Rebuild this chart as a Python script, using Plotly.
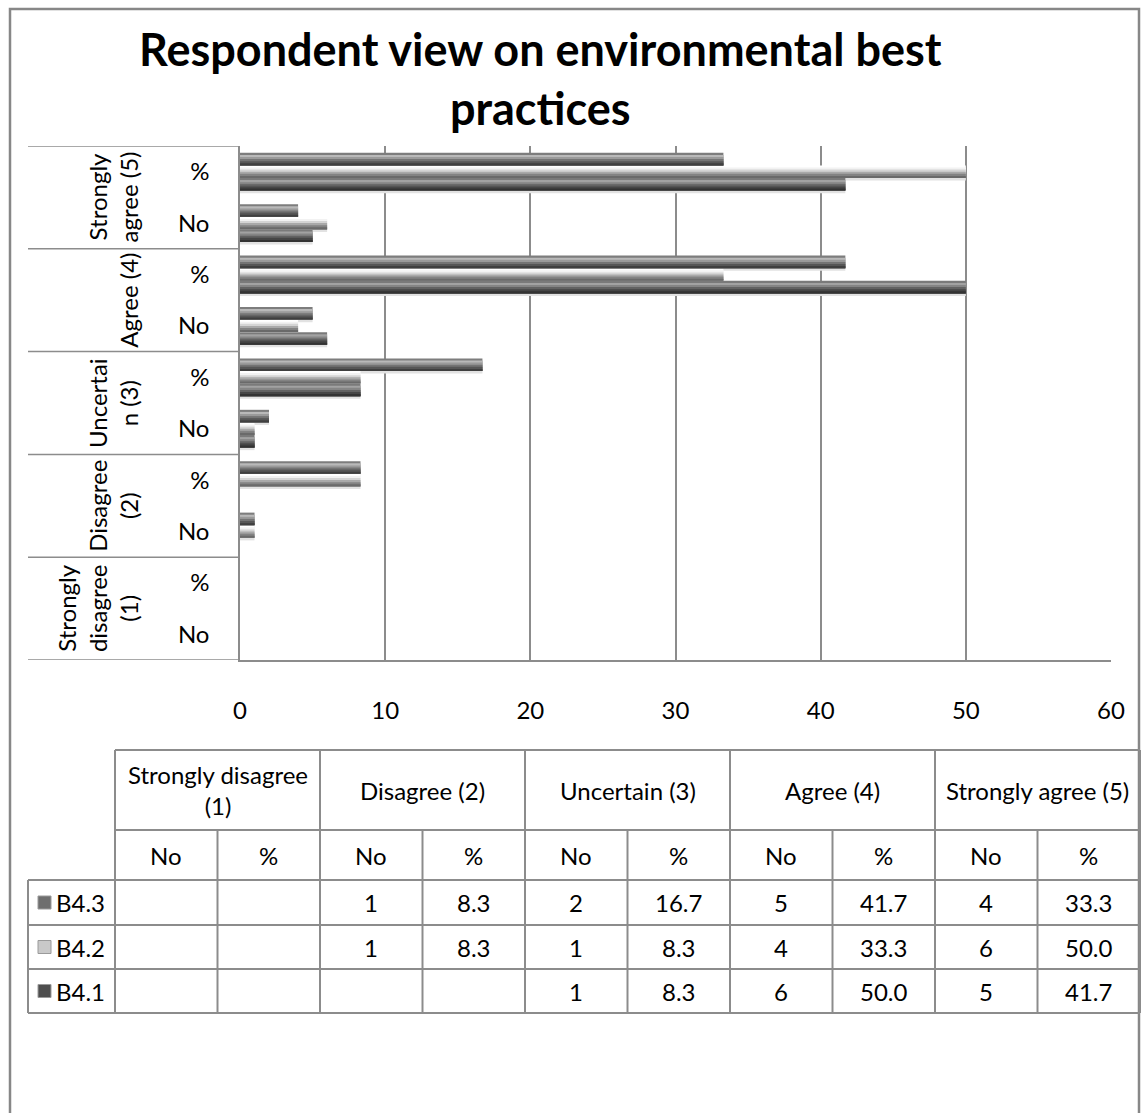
import plotly.graph_objects as go

# ---- data -------------------------------------------------------------
levels = ["Strongly disagree (1)", "Disagree (2)", "Uncertain (3)", "Agree (4)", "Strongly agree (5)"]
level_axis_labels = ["Strongly<br>disagree<br>(1)", "Disagree<br>(2)", "Uncertai<br>n (3)",
                     "Agree (4)", "Strongly<br>agree (5)"]
measures = ["No", "%"]
series_names = ["B4.1", "B4.2", "B4.3"]

b41_no = [None, None, 1, 6, 5]
b41_pct = [None, None, 8.3, 50.0, 41.7]
b42_no = [None, 1, 1, 4, 6]
b42_pct = [None, 8.3, 8.3, 33.3, 50.0]
b43_no = [None, 1, 2, 5, 4]
b43_pct = [None, 8.3, 16.7, 41.7, 33.3]

x_ticks = [0, 10, 20, 30, 40, 50, 60]

title_text = "Respondent view on environmental best<br>practices"

# ---- styling ----------------------------------------------------------
FONT = "Lato, 'Open Sans', sans-serif"
TXT = 24
GRID = "#8c8c8c"

# bevelled grey bars, approximated by horizontal bands (top -> bottom)
bands = {
    "B4.3": ["#7d7d7d", "#b9b9b9", "#9a9a9a", "#747474", "#565656", "#3f3f3f"],
    "B4.2": ["#ffffff", "#f2f2f2", "#d4d4d4", "#a9a9a9", "#838383", "#6a6a6a"],
    "B4.1": ["#7a7a7a", "#a2a2a2", "#858585", "#626262", "#464646", "#333333"],
}
key_fill = {"B4.3": "#6e6e6e", "B4.2": "#c9c9c9", "B4.1": "#4e4e4e"}
shadow_color = "#e2e2e2"
bar_w = 0.245
base_offset = {"B4.1": -0.3675, "B4.2": -0.1225, "B4.3": 0.1225}

# ---- category layout ---------------------------------------------------
positions = list(range(len(levels) * len(measures)))
tick_text = [m for _ in levels for m in measures]


def interleave(no_vals, pct_vals):
    out = []
    for a, b in zip(no_vals, pct_vals):
        out += [a, b]
    return out


series_vals = {
    "B4.1": interleave(b41_no, b41_pct),
    "B4.2": interleave(b42_no, b42_pct),
    "B4.3": interleave(b43_no, b43_pct),
}
series_cols = {
    "B4.1": (b41_no, b41_pct),
    "B4.2": (b42_no, b42_pct),
    "B4.3": (b43_no, b43_pct),
}

fig = go.Figure()

# soft drop shadow under each bar
for name in series_names:
    fig.add_trace(go.Bar(
        orientation="h", x=series_vals[name], y=positions,
        offset=base_offset[name] - 0.05, width=bar_w,
        marker=dict(color=shadow_color, line=dict(width=0)),
        showlegend=False, hoverinfo="skip",
    ))

# each band reaches down to the bar's bottom edge, so the bands stack without gaps
for name in series_names:
    cols = bands[name]
    k = len(cols)
    for j, c in enumerate(cols):
        height = bar_w * (k - j) / k
        fig.add_trace(go.Bar(
            orientation="h",
            x=series_vals[name],
            y=positions,
            offset=base_offset[name],
            width=height,
            marker=dict(color=c, line=dict(width=0)),
            name=name,
            showlegend=False,
            hoverinfo="skip",
        ))

# ---- pixel helpers for the surrounding frame / table ------------------
W, H = 1141, 1113
PL, PR, PT, PB = 240, 1111, 146, 660


def px(x):
    return (x - PL) / (PR - PL)


def py(y):
    return (PB - y) / (PB - PT)


shapes = []
annotations = []

# outer chart frame
shapes.append(dict(type="rect", xref="paper", yref="paper",
                   x0=px(10), x1=px(1139), y0=py(1140), y1=py(9),
                   line=dict(color="#878787", width=2.5), fillcolor="rgba(0,0,0,0)", layer="above"))

# multi-level category dividers
for g in range(len(levels) + 1):
    yv = g * len(measures) - 0.5
    shapes.append(dict(type="line", xref="paper", yref="y",
                       x0=px(28), x1=0, y0=yv, y1=yv,
                       line=dict(color=GRID, width=1.5)))

# outer category labels (rotated)
for g, lab in enumerate(level_axis_labels):
    annotations.append(dict(xref="paper", yref="y",
                            x=px(145), y=g * len(measures) + 0.5,
                            text=lab, textangle=-90, showarrow=False,
                            xanchor="right", yanchor="middle", align="center",
                            font=dict(family=FONT, size=TXT, color="black")))

# title
annotations.append(dict(xref="paper", yref="paper", x=px(540), y=py(78),
                        text="<b>" + title_text + "</b>", showarrow=False,
                        xanchor="center", yanchor="middle", align="center",
                        font=dict(family=FONT, size=45, color="black")))

# ---- data table ---------------------------------------------------------
tx0, tcol0, tgw = 28, 115, 205
tx_end = tcol0 + tgw * len(levels)
r_top, r_h1, r_h2 = 750, 830, 880
row_lines = [880, 925, 969, 1013]


def hline(y, x0, x1):
    shapes.append(dict(type="line", xref="paper", yref="paper",
                       x0=px(x0), x1=px(x1), y0=py(y), y1=py(y),
                       line=dict(color=GRID, width=2)))


def vline(x, y0, y1):
    shapes.append(dict(type="line", xref="paper", yref="paper",
                       x0=px(x), x1=px(x), y0=py(y0), y1=py(y1),
                       line=dict(color=GRID, width=2)))


def text(x, y, s, anchor="center"):
    annotations.append(dict(xref="paper", yref="paper", x=px(x), y=py(y),
                            text=s, showarrow=False, xanchor=anchor, yanchor="middle",
                            align="center", font=dict(family=FONT, size=TXT, color="black")))


hline(r_top, tcol0, tx_end)
hline(r_h1, tcol0, tx_end)
for yl in row_lines:
    hline(yl, tx0, tx_end)

for g in range(len(levels) + 1):
    vline(tcol0 + g * tgw, r_top, row_lines[-1])
for g in range(len(levels)):
    vline(tcol0 + g * tgw + tgw / 2, r_h1, row_lines[-1])
vline(tx0, row_lines[0], row_lines[-1])

header_labels = ["Strongly disagree<br>(1)", "Disagree (2)", "Uncertain (3)", "Agree (4)", "Strongly agree (5)"]
for g, lab in enumerate(header_labels):
    text(tcol0 + g * tgw + tgw / 2, (r_top + r_h1) / 2, lab)
    for m, meas in enumerate(measures):
        text(tcol0 + g * tgw + tgw / 4 + m * tgw / 2, (r_h1 + r_h2) / 2, meas)

for r, name in enumerate(["B4.3", "B4.2", "B4.1"]):
    yc = (row_lines[r] + row_lines[r + 1]) / 2
    shapes.append(dict(type="rect", xref="paper", yref="paper",
                       x0=px(38), x1=px(51), y0=py(yc + 6.5), y1=py(yc - 6.5),
                       fillcolor=key_fill[name], line=dict(color="#9a9a9a", width=1)))
    text(54, yc, name, anchor="left")
    no_vals, pct_vals = series_cols[name]
    for g in range(len(levels)):
        if no_vals[g] is not None:
            text(tcol0 + g * tgw + tgw / 4, yc, f"{no_vals[g]:d}")
        if pct_vals[g] is not None:
            text(tcol0 + g * tgw + 3 * tgw / 4, yc, f"{pct_vals[g]:.1f}")

fig.update_layout(
    width=W, height=H,
    margin=dict(l=PL, r=W - PR, t=PT, b=H - PB, autoexpand=False),
    paper_bgcolor="white", plot_bgcolor="white",
    barmode="overlay",
    showlegend=False,
    shapes=shapes,
    annotations=annotations,
    xaxis=dict(range=[0, 60], tickvals=x_ticks, ticktext=[str(t) for t in x_ticks],
               showgrid=True, gridcolor=GRID, gridwidth=1.5,
               showline=True, linecolor=GRID, linewidth=1.5,
               zeroline=False, ticks="", ticklabelstandoff=28,
               tickfont=dict(family=FONT, size=TXT, color="black")),
    yaxis=dict(range=[-0.5, len(positions) - 0.5], tickvals=positions, ticktext=tick_text,
               showgrid=False, showline=True, linecolor=GRID, linewidth=1.5,
               zeroline=False, ticks="", ticklabelstandoff=24,
               tickfont=dict(family=FONT, size=TXT, color="black")),
)

fig.write_html("out.html")
